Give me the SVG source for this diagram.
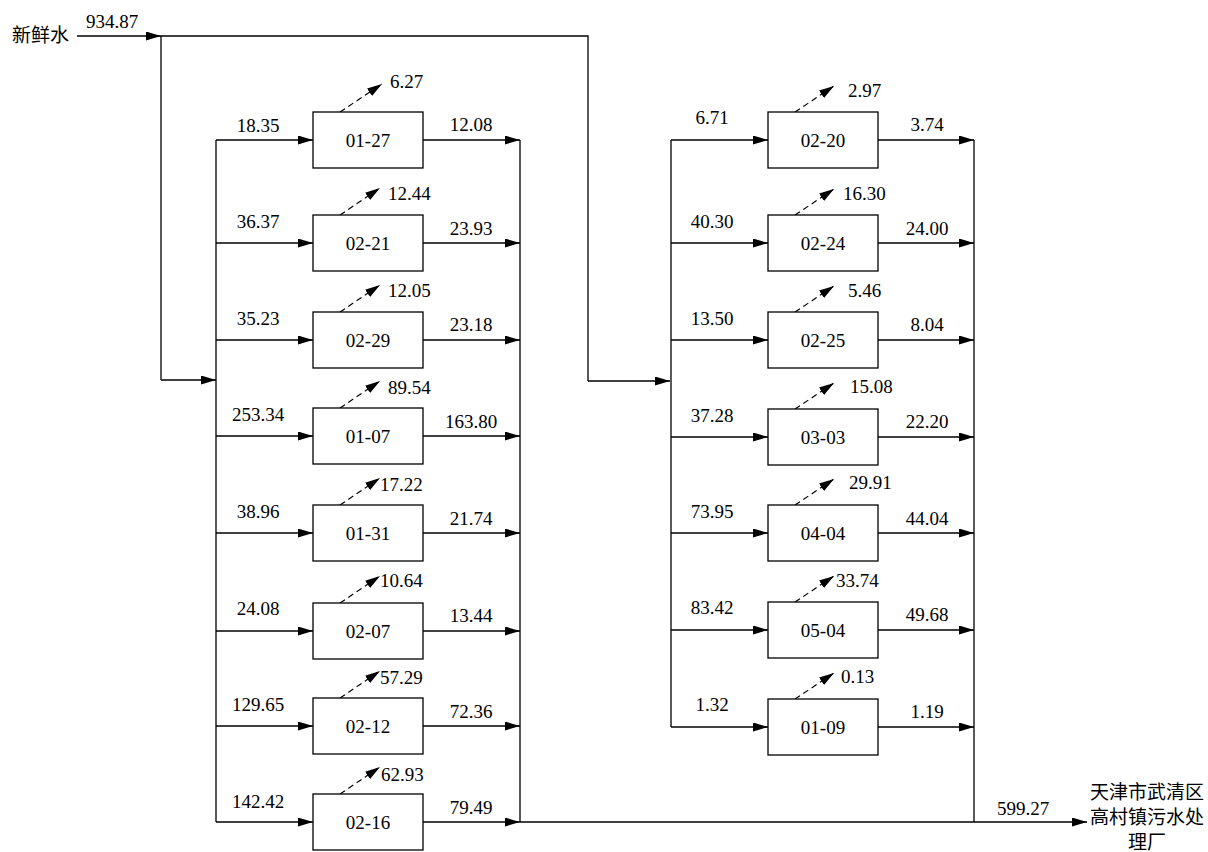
<svg xmlns="http://www.w3.org/2000/svg" width="1208" height="852" viewBox="0 0 1208 852">
<defs>
<marker id="ah" markerUnits="userSpaceOnUse" markerWidth="16" markerHeight="10" refX="15" refY="4.5" orient="auto"><path d="M0,0 L15,4.5 L0,9 z" fill="#000"/></marker>
<marker id="ahd" markerUnits="userSpaceOnUse" markerWidth="16" markerHeight="10" refX="15" refY="4.5" orient="auto"><path d="M0,0 L15,4.5 L0,9 z" fill="#000"/></marker>
<style>
.b{fill:#fff;stroke:#000;stroke-width:1.3}
.l{fill:none;stroke:#000;stroke-width:1.3}
.a{fill:none;stroke:#000;stroke-width:1.3;marker-end:url(#ah)}
.d{fill:none;stroke:#000;stroke-width:1.2;stroke-dasharray:6 4;marker-end:url(#ahd)}
text{font-family:"Liberation Serif","Times New Roman",serif;font-size:19px;fill:#000}
.c{text-anchor:middle}
.cn{font-family:"Noto Sans CJK SC","Noto Sans",sans-serif;font-size:19px}
</style>
</defs>
<rect width="1208" height="852" fill="#fff"/>
<g id="connectors">
<line class="a" x1="77" y1="36" x2="161" y2="36"/>
<polyline class="l" points="161,36 588,36 588,381"/>
<line class="a" x1="588" y1="381" x2="670" y2="381"/>
<line class="l" x1="161" y1="36" x2="161" y2="380"/>
<line class="a" x1="161" y1="380" x2="216" y2="380"/>
<line class="l" x1="216" y1="140" x2="216" y2="822"/>
<line class="l" x1="520" y1="140" x2="520" y2="822"/>
<line class="l" x1="671" y1="140" x2="671" y2="727"/>
<line class="l" x1="974" y1="140" x2="974" y2="822"/>
<line class="a" x1="520" y1="822" x2="1087" y2="822"/>
<line class="a" x1="216" y1="140" x2="313" y2="140"/>
<line class="a" x1="216" y1="243" x2="313" y2="243"/>
<line class="a" x1="216" y1="340" x2="313" y2="340"/>
<line class="a" x1="216" y1="436" x2="313" y2="436"/>
<line class="a" x1="216" y1="533" x2="313" y2="533"/>
<line class="a" x1="216" y1="631" x2="313" y2="631"/>
<line class="a" x1="216" y1="726" x2="313" y2="726"/>
<line class="a" x1="216" y1="822" x2="313" y2="822"/>
<line class="a" x1="423" y1="140" x2="520" y2="140"/>
<line class="a" x1="423" y1="243" x2="520" y2="243"/>
<line class="a" x1="423" y1="340" x2="520" y2="340"/>
<line class="a" x1="423" y1="436" x2="520" y2="436"/>
<line class="a" x1="423" y1="533" x2="520" y2="533"/>
<line class="a" x1="423" y1="631" x2="520" y2="631"/>
<line class="a" x1="423" y1="726" x2="520" y2="726"/>
<line class="a" x1="423" y1="822" x2="520" y2="822"/>
<line class="d" x1="340" y1="112" x2="382" y2="84"/>
<line class="d" x1="340" y1="215" x2="380" y2="188"/>
<line class="d" x1="340" y1="312" x2="380" y2="285"/>
<line class="d" x1="340" y1="408" x2="380" y2="381"/>
<line class="d" x1="340" y1="505" x2="380" y2="478"/>
<line class="d" x1="340" y1="603" x2="380" y2="576"/>
<line class="d" x1="340" y1="698" x2="380" y2="671"/>
<line class="d" x1="340" y1="794" x2="380" y2="767"/>
<line class="a" x1="671" y1="140" x2="768" y2="140"/>
<line class="a" x1="671" y1="243" x2="768" y2="243"/>
<line class="a" x1="671" y1="340" x2="768" y2="340"/>
<line class="a" x1="671" y1="437" x2="768" y2="437"/>
<line class="a" x1="671" y1="533" x2="768" y2="533"/>
<line class="a" x1="671" y1="630" x2="768" y2="630"/>
<line class="a" x1="671" y1="727" x2="768" y2="727"/>
<line class="a" x1="878" y1="140" x2="974" y2="140"/>
<line class="a" x1="878" y1="243" x2="974" y2="243"/>
<line class="a" x1="878" y1="340" x2="974" y2="340"/>
<line class="a" x1="878" y1="437" x2="974" y2="437"/>
<line class="a" x1="878" y1="533" x2="974" y2="533"/>
<line class="a" x1="878" y1="630" x2="974" y2="630"/>
<line class="a" x1="878" y1="727" x2="974" y2="727"/>
<line class="d" x1="795" y1="112" x2="834" y2="86"/>
<line class="d" x1="795" y1="215" x2="834" y2="189"/>
<line class="d" x1="795" y1="312" x2="834" y2="286"/>
<line class="d" x1="795" y1="409" x2="834" y2="383"/>
<line class="d" x1="795" y1="505" x2="834" y2="479"/>
<line class="d" x1="795" y1="602" x2="834" y2="576"/>
<line class="d" x1="795" y1="699" x2="834" y2="673"/>
</g>
<g id="edge-labels">
<text class="c" x="112" y="28">934.87</text>
<text class="c" x="1023" y="815">599.27</text>
<text class="c" x="258" y="132">18.35</text>
<text class="c" x="258" y="228">36.37</text>
<text class="c" x="258" y="325">35.23</text>
<text class="c" x="258" y="421">253.34</text>
<text class="c" x="258" y="518">38.96</text>
<text class="c" x="258" y="615">24.08</text>
<text class="c" x="258" y="711">129.65</text>
<text class="c" x="258" y="808">142.42</text>
<text class="c" x="471" y="131">12.08</text>
<text class="c" x="471" y="235">23.93</text>
<text class="c" x="471" y="331">23.18</text>
<text class="c" x="471" y="428">163.80</text>
<text class="c" x="471" y="525">21.74</text>
<text class="c" x="471" y="622">13.44</text>
<text class="c" x="471" y="718">72.36</text>
<text class="c" x="471" y="814">79.49</text>
<text x="390" y="88">6.27</text>
<text x="388" y="200">12.44</text>
<text x="388" y="297">12.05</text>
<text x="388" y="394">89.54</text>
<text x="380" y="491">17.22</text>
<text x="380" y="587">10.64</text>
<text x="380" y="684">57.29</text>
<text x="381" y="781">62.93</text>
<text class="c" x="712" y="124">6.71</text>
<text class="c" x="712" y="228">40.30</text>
<text class="c" x="712" y="325">13.50</text>
<text class="c" x="712" y="422">37.28</text>
<text class="c" x="712" y="518">73.95</text>
<text class="c" x="712" y="614">83.42</text>
<text class="c" x="712" y="711">1.32</text>
<text class="c" x="927" y="131">3.74</text>
<text class="c" x="927" y="235">24.00</text>
<text class="c" x="927" y="331">8.04</text>
<text class="c" x="927" y="428">22.20</text>
<text class="c" x="927" y="525">44.04</text>
<text class="c" x="927" y="621">49.68</text>
<text class="c" x="927" y="718">1.19</text>
<text x="848" y="97">2.97</text>
<text x="843" y="200">16.30</text>
<text x="848" y="297">5.46</text>
<text x="850" y="393">15.08</text>
<text x="849" y="489">29.91</text>
<text x="836" y="587">33.74</text>
<text x="841" y="683">0.13</text>
</g>
<g id="n-fresh"><text class="cn" x="12" y="42">新鲜水</text></g>
<g id="n-plant">
<text class="cn c" x="1147" y="799">天津市武清区</text>
<text class="cn c" x="1147" y="824">高村镇污水处</text>
<text class="cn c" x="1147" y="849">理厂</text>
</g>
<g id="n-01-27"><rect class="b" x="313" y="112" width="110" height="56"/><text class="c" x="368" y="147">01-27</text></g>
<g id="n-02-21"><rect class="b" x="313" y="215" width="110" height="56"/><text class="c" x="368" y="250">02-21</text></g>
<g id="n-02-29"><rect class="b" x="313" y="312" width="110" height="56"/><text class="c" x="368" y="347">02-29</text></g>
<g id="n-01-07"><rect class="b" x="313" y="408" width="110" height="56"/><text class="c" x="368" y="443">01-07</text></g>
<g id="n-01-31"><rect class="b" x="313" y="505" width="110" height="56"/><text class="c" x="368" y="540">01-31</text></g>
<g id="n-02-07"><rect class="b" x="313" y="603" width="110" height="56"/><text class="c" x="368" y="638">02-07</text></g>
<g id="n-02-12"><rect class="b" x="313" y="698" width="110" height="56"/><text class="c" x="368" y="733">02-12</text></g>
<g id="n-02-16"><rect class="b" x="313" y="794" width="110" height="56"/><text class="c" x="368" y="829">02-16</text></g>
<g id="n-02-20"><rect class="b" x="768" y="112" width="110" height="56"/><text class="c" x="823" y="147">02-20</text></g>
<g id="n-02-24"><rect class="b" x="768" y="215" width="110" height="56"/><text class="c" x="823" y="250">02-24</text></g>
<g id="n-02-25"><rect class="b" x="768" y="312" width="110" height="56"/><text class="c" x="823" y="347">02-25</text></g>
<g id="n-03-03"><rect class="b" x="768" y="409" width="110" height="56"/><text class="c" x="823" y="444">03-03</text></g>
<g id="n-04-04"><rect class="b" x="768" y="505" width="110" height="56"/><text class="c" x="823" y="540">04-04</text></g>
<g id="n-05-04"><rect class="b" x="768" y="602" width="110" height="56"/><text class="c" x="823" y="637">05-04</text></g>
<g id="n-01-09"><rect class="b" x="768" y="699" width="110" height="56"/><text class="c" x="823" y="734">01-09</text></g>
</svg>
